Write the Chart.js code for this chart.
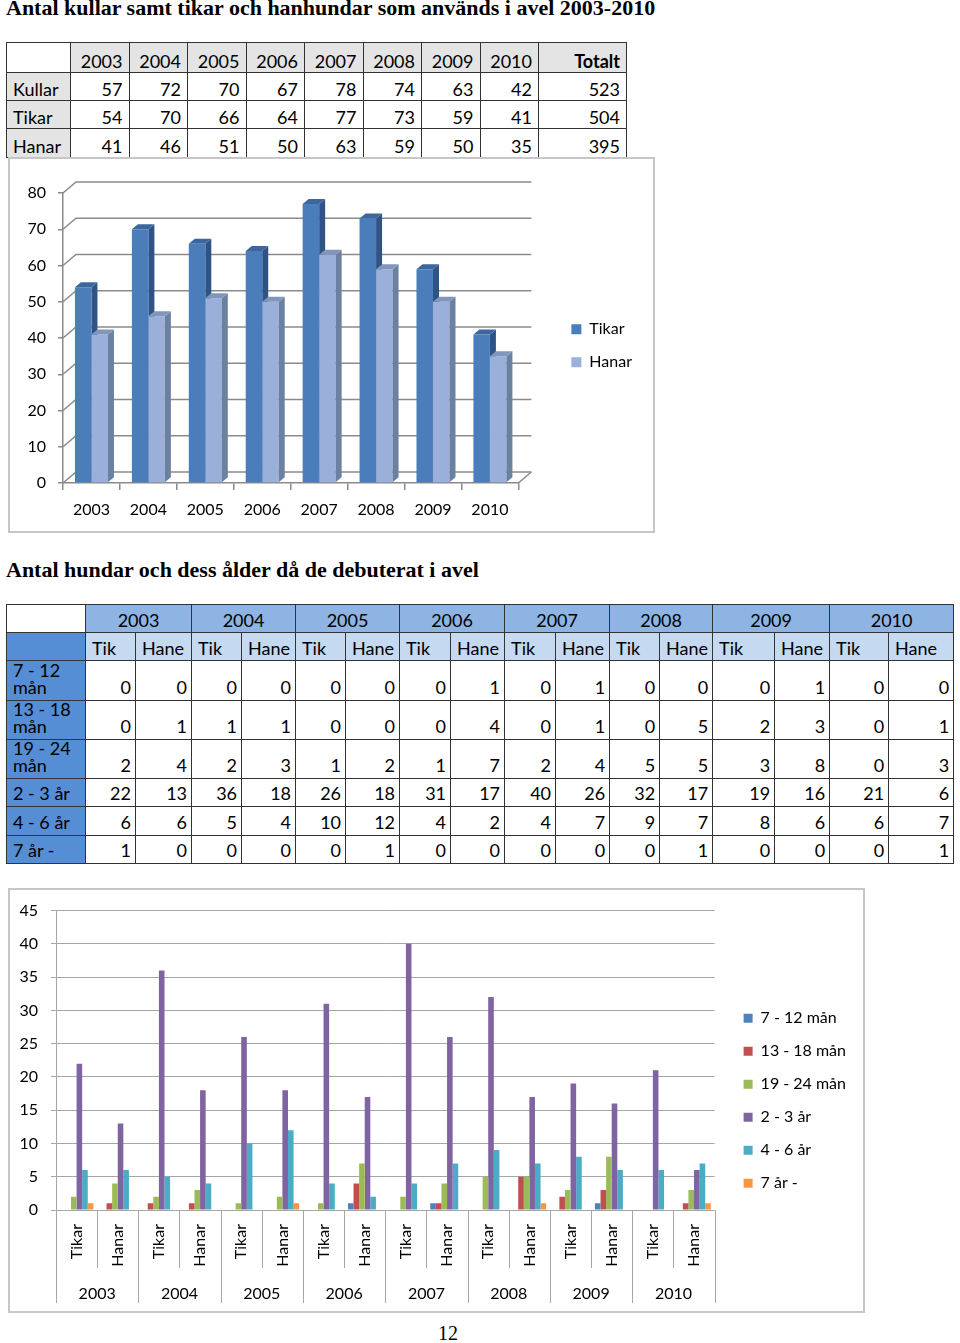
<!DOCTYPE html>
<html lang="sv">
<head>
<meta charset="utf-8">
<title>Avel 2003-2010</title>
<script src="https://cdn.jsdelivr.net/npm/chart.js@4.4.1/dist/chart.umd.min.js"></script>
<style>
  body { margin: 0; width: 960px; height: 1343px; position: relative; overflow: hidden; background: #fff; color: #000; font-family: Lato, sans-serif; }
  .title { position: absolute; left: 6px; margin: 0; font: bold 22px/22px "Liberation Serif", "Times New Roman", serif; white-space: nowrap; }
  table { position: absolute; border-collapse: collapse; table-layout: fixed; font: 18px/18px Lato, sans-serif; }
  td { border: 1px solid #333; padding: 0 6px 2px; vertical-align: bottom; white-space: nowrap; overflow: hidden; }
  #t1 { left: 6px; top: 42px; width: 620px; }
  #t1 td { text-align: right; }
  #t1 tr.head td { background: #e4e4e4; }
  #t1 tr td.lab { text-align: left; background: #e4e4e4; }
  #t1 tr.head td.corner { background: #fff; }
  #t1 td.tot { font-weight: bold; }
  #t2 { left: 6px; top: 604px; width: 947px; }
  #t2 td { padding: 0 4px 4px; text-align: right; }
  #t2 tr.yr td { background: #8db4e2; text-align: center; padding-bottom: 3px; }
  #t2 tr.sub td { background: #c5d9f1; text-align: left; padding-left: 6px; padding-bottom: 3px; }
  #t2 tr td.lab { background: #558ed5; text-align: left; padding-left: 6px; white-space: normal; line-height: 17px; }
  #t2 tr.yr td.corner { background: #fff; }
  .box { position: absolute; box-sizing: border-box; border: 2px solid #c6c6c6; }
  canvas { position: absolute; }
  .page { position: absolute; left: 428px; width: 40px; top: 1323px; text-align: center; font: 20px/20px "Liberation Serif", "Times New Roman", serif; }
</style>
</head>
<body>
<h1 class="title" style="top:-3px">Antal kullar samt tikar och hanhundar som används i avel 2003-2010</h1>
<table id="t1"></table>
<div class="box" style="left:8px;top:157px;width:647px;height:376px"></div>
<canvas id="c1" width="647" height="376" style="left:8px;top:157px"></canvas>

<h1 class="title" style="top:559px">Antal hundar och dess ålder då de debuterat i avel</h1>
<table id="t2"></table>
<div class="box" style="left:8px;top:888px;width:857px;height:425px"></div>
<canvas id="c2" width="857" height="425" style="left:8px;top:888px"></canvas>

<div class="page">12</div>

<script>
// ---- data ----
const years = ['2003', '2004', '2005', '2006', '2007', '2008', '2009', '2010'];
const kullar = [57, 72, 70, 67, 78, 74, 63, 42];
const tikar = [54, 70, 66, 64, 77, 73, 59, 41];
const hanar = [41, 46, 51, 50, 63, 59, 50, 35];

const sexHeads = ['Tik', 'Hane'];
const sexLabels = ['Tikar', 'Hanar'];
const ageGroups = ['7 - 12 mån', '13 - 18 mån', '19 - 24 mån', '2 - 3 år', '4 - 6 år', '7 år -'];
// per year: Tik, Hane
const age7to12 = [0, 0, 0, 0, 0, 0, 0, 1, 0, 1, 0, 0, 0, 1, 0, 0];
const age13to18 = [0, 1, 1, 1, 0, 0, 0, 4, 0, 1, 0, 5, 2, 3, 0, 1];
const age19to24 = [2, 4, 2, 3, 1, 2, 1, 7, 2, 4, 5, 5, 3, 8, 0, 3];
const age2to3 = [22, 13, 36, 18, 26, 18, 31, 17, 40, 26, 32, 17, 19, 16, 21, 6];
const age4to6 = [6, 6, 5, 4, 10, 12, 4, 2, 4, 7, 9, 7, 8, 6, 6, 7];
const age7plus = [1, 0, 0, 0, 0, 1, 0, 0, 0, 0, 0, 1, 0, 0, 0, 1];
const ageValues = [age7to12, age13to18, age19to24, age2to3, age4to6, age7plus];

const ageColors = ['#4f81bd', '#c0504d', '#9bbb59', '#8064a2', '#4bacc6', '#f79646'];

// ---- tables ----
const sum = a => a.reduce((s, v) => s + v, 0);

const t1 = document.getElementById('t1');
let h1 = '<colgroup><col style="width:64px">' + years.map(() => '<col style="width:58.5px">').join('') + '<col style="width:88px"></colgroup>';
h1 += '<tr class="head" style="height:30px"><td class="corner"></td>' + years.map(y => `<td>${y}</td>`).join('') + '<td class="tot">Totalt</td></tr>';
[['Kullar', kullar, 28], ['Tikar', tikar, 28], ['Hanar', hanar, 29]].forEach(([name, vals, rh]) => {
  h1 += `<tr style="height:${rh}px"><td class="lab">${name}</td>` + vals.map(v => `<td>${v}</td>`).join('') + `<td>${sum(vals)}</td></tr>`;
});
t1.innerHTML = h1;

const t2 = document.getElementById('t2');
const t2Cols = [50, 56, 50, 54, 50, 54, 51, 54, 51, 54, 50, 53, 62, 55, 59, 65];
const t2Rows = [40, 39, 39, 28, 29, 28];
let h2 = '<colgroup><col style="width:79px">' + t2Cols.map(w => `<col style="width:${w}px">`).join('') + '</colgroup>';
h2 += '<tr class="yr" style="height:28px"><td class="corner"></td>' + years.map(y => `<td colspan="2">${y}</td>`).join('') + '</tr>';
h2 += '<tr class="sub" style="height:28px"><td class="lab"></td>' + years.map(() => sexHeads.map(s => `<td>${s}</td>`).join('')).join('') + '</tr>';
ageGroups.forEach((g, i) => {
  h2 += `<tr style="height:${t2Rows[i]}px"><td class="lab">${g}</td>` + ageValues[i].map(v => `<td>${v}</td>`).join('') + '</tr>';
});
t2.innerHTML = h2;

// ---- charts ----
Chart.defaults.font.family = 'Lato';
Chart.defaults.font.size = 16;
Chart.defaults.color = '#000';

const depth = { dx: 6, dy: 5 };   // bar depth
const wall = { dx: 13, dy: 11 };  // back wall offset

function drawFaces(chart, i) {
  const ctx = chart.ctx;
  const ds = chart.data.datasets[i];
  ctx.save();
  chart.getDatasetMeta(i).data.forEach(bar => {
    const { x, y, base, width } = bar.getProps(['x', 'y', 'base', 'width'], true);
    const l = x - width / 2, r = x + width / 2;
    ctx.fillStyle = ds.sideColor;
    ctx.beginPath();
    ctx.moveTo(r, y);
    ctx.lineTo(r + depth.dx, y - depth.dy);
    ctx.lineTo(r + depth.dx, base - depth.dy);
    ctx.lineTo(r, base);
    ctx.closePath();
    ctx.fill();
    ctx.fillStyle = ds.topColor;
    ctx.beginPath();
    ctx.moveTo(l, y);
    ctx.lineTo(l + depth.dx, y - depth.dy);
    ctx.lineTo(r + depth.dx, y - depth.dy);
    ctx.lineTo(r, y);
    ctx.closePath();
    ctx.fill();
  });
  ctx.restore();
}

const bars3d = {
  id: 'bars3d',
  beforeDatasetsDraw(chart) {
    const { ctx, chartArea: a, scales: { y } } = chart;
    ctx.save();
    ctx.strokeStyle = '#8a8a8a';
    ctx.lineWidth = 1.5;
    y.ticks.forEach(t => {
      const py = y.getPixelForValue(t.value);
      ctx.beginPath();
      ctx.moveTo(a.left, py);
      ctx.lineTo(a.left + wall.dx, py - wall.dy);
      ctx.lineTo(a.right + wall.dx, py - wall.dy);
      ctx.stroke();
    });
    ctx.beginPath();
    ctx.moveTo(a.right, a.bottom);
    ctx.lineTo(a.right + wall.dx, a.bottom - wall.dy);
    ctx.stroke();
    ctx.restore();
    drawFaces(chart, 0);
  },
  afterDatasetsDraw(chart) {
    drawFaces(chart, 1);
  }
};

new Chart(document.getElementById('c1'), {
  type: 'bar',
  data: {
    labels: years,
    datasets: [
      { label: 'Tikar', data: tikar, backgroundColor: '#4a7dba', sideColor: '#2f5384', topColor: '#3b669e' },
      { label: 'Hanar', data: hanar, backgroundColor: '#9aafd9', sideColor: '#6c809f', topColor: '#8196bd' }
    ]
  },
  options: {
    responsive: false,
    animation: false,
    devicePixelRatio: 1,
    categoryPercentage: 0.58,
    barPercentage: 1,
    layout: { padding: { top: 36, right: 13, bottom: 0, left: 0 } },
    plugins: {
      legend: {
        position: 'right', align: 'start',
        title: { display: true, text: '', padding: { top: 92, bottom: 0 } },
        labels: { boxWidth: 10, boxHeight: 10, padding: 17 }
      },
      tooltip: { enabled: false }
    },
    scales: {
      x: {
        grid: { offset: true, drawOnChartArea: false, tickLength: 7, color: '#8a8a8a', lineWidth: 1.5 },
        border: { color: '#8a8a8a', width: 1.5 },
        ticks: { padding: 10 },
        afterFit: s => { s.height = 50; }
      },
      y: {
        min: 0, max: 80,
        ticks: { stepSize: 10, padding: 12 },
        grid: { drawOnChartArea: false, tickLength: 5, color: '#8a8a8a', lineWidth: 1.5 },
        border: { color: '#8a8a8a', width: 1.5 },
        afterFit: s => { s.width = 55; }
      },
      pad: {
        type: 'linear', position: 'right',
        grid: { display: false }, ticks: { display: false }, border: { display: false },
        afterFit: s => { s.width = 36; }
      }
    }
  },
  plugins: [bars3d]
});

const separators = {
  id: 'separators',
  afterDraw(chart) {
    const { ctx, chartArea: a, scales: { x } } = chart;
    const n = chart.data.labels.length;
    const group = n / years.length;
    ctx.save();
    ctx.strokeStyle = '#a6a6a6';
    ctx.lineWidth = 1;
    for (let i = 0; i <= n; i++) {
      const px = i === 0 ? a.left : i === n ? a.right : (x.getPixelForValue(i - 1) + x.getPixelForValue(i)) / 2;
      const end = i % group === 0 ? chart.height - 10 : x.bottom - 2;
      const sx = Math.round(px) + 0.5;
      ctx.beginPath();
      ctx.moveTo(sx, a.bottom);
      ctx.lineTo(sx, end);
      ctx.stroke();
    }
    ctx.restore();
  }
};

new Chart(document.getElementById('c2'), {
  type: 'bar',
  data: {
    labels: years.flatMap(() => sexLabels),
    datasets: ageGroups.map((g, i) => ({
      label: g, data: ageValues[i], backgroundColor: ageColors[i], borderWidth: 0, xAxisID: 'x', yAxisID: 'y'
    }))
  },
  options: {
    responsive: false,
    animation: false,
    devicePixelRatio: 1,
    categoryPercentage: 0.815,
    barPercentage: 1,
    layout: { padding: { top: 21, right: 9, bottom: 0, left: 0 } },
    plugins: {
      legend: {
        position: 'right', align: 'start',
        title: { display: true, text: '', padding: { top: 65, bottom: 0 } },
        labels: { boxWidth: 9, boxHeight: 9, padding: 17 }
      },
      tooltip: { enabled: false }
    },
    scales: {
      x: {
        grid: { display: false },
        border: { display: false },
        ticks: { minRotation: 90, maxRotation: 90, autoSkip: false, padding: 6 },
        afterFit: s => { s.height = 60; }
      },
      x2: {
        type: 'category', position: 'bottom', labels: years, offset: true, weight: 1,
        grid: { display: false },
        border: { display: false },
        ticks: { padding: 6 },
        afterFit: s => { s.height = 43; }
      },
      y: {
        min: 0, max: 45,
        ticks: { stepSize: 5, padding: 13 },
        grid: { color: '#a6a6a6', tickLength: 5 },
        border: { color: '#a6a6a6' },
        afterFit: s => { s.width = 48; }
      },
      pad: {
        type: 'linear', position: 'right',
        grid: { display: false }, ticks: { display: false }, border: { display: false },
        afterFit: s => { s.width = 12; }
      }
    }
  },
  plugins: [separators]
});
</script>
</body>
</html>
